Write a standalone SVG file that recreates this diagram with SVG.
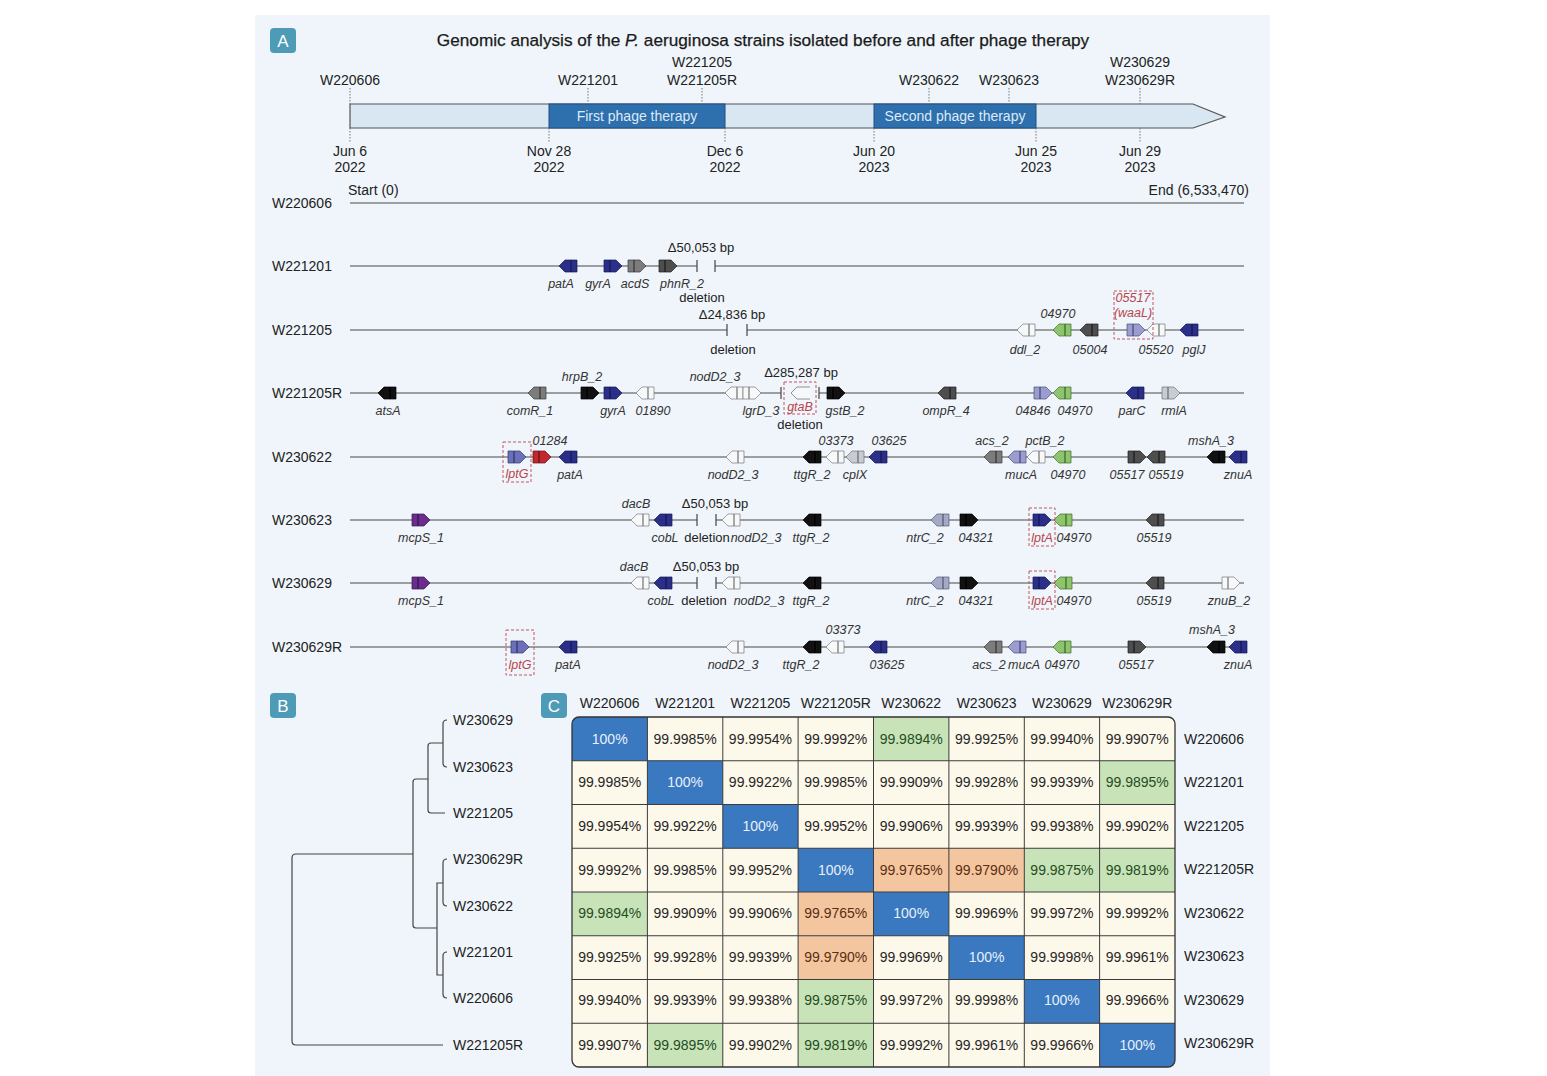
<svg xmlns="http://www.w3.org/2000/svg" width="1547" height="1076" viewBox="0 0 1547 1076">
<defs>
<style>
text{font-family:"Liberation Sans",Arial,sans-serif;fill:#222}
.t14{font-size:14px}
.gl{font-size:12.5px;font-style:italic;fill:#333}
.gc{text-anchor:middle}
.red{fill:#b8454c}
.bb{fill:none;stroke:#4a4a4a;stroke-width:1.2}
.tick{stroke:#444;stroke-width:1.2}
.dot{stroke:#777;stroke-width:1;stroke-dasharray:1.5 1.5}
.box{fill:none;stroke:#c0575e;stroke-width:1;stroke-dasharray:3 2}
.navy{fill:#2c2f88;stroke:#15175a}
.blk{fill:#111;stroke:#000}
.gry{fill:#7c7c7c;stroke:#3a3a3a}
.dk{fill:#4e4e4e;stroke:#1e1e1e}
.wht{fill:#f6f8fa;stroke:#7a7a7a}
.lg{fill:#c8ccd2;stroke:#6d7075}
.grn{fill:#8dc46d;stroke:#3d6e28}
.lp{fill:#9a9dcd;stroke:#4a4d80}
.np{fill:#a6a9c6;stroke:#585b78}
.bp{fill:#6c70b8;stroke:#33366e}
.rd{fill:#c1272d;stroke:#6d1014}
.pur{fill:#6b2d8c;stroke:#3a1450}
.tree{fill:none;stroke:#444;stroke-width:1.2}
.cell{font-size:14px;text-anchor:middle;fill:#262626}
.cw{fill:#e8f1fa}
.cg{fill:#234d1e}
.co{fill:#5a2e10}
.lbl{fill:#4e9bb7}
.lblt{font-size:17px;fill:#fff;text-anchor:middle}
</style>
<g id="gr"><path d="M-9,-6H3L9,0L3,6H-9Z" stroke-width="0.7"/><path d="M-3,-6V6" stroke-width="1.3"/></g>
<g id="gl"><path d="M9,-6H-3L-9,0L-3,6H9Z" stroke-width="0.7"/><path d="M3,-6V6" stroke-width="1.3"/></g>
<clipPath id="mclip"><rect x="572" y="717" width="603" height="350" rx="7"/></clipPath>
</defs>
<rect width="1547" height="1076" fill="#ffffff"/>
<rect x="255" y="15" width="1015" height="1061" fill="#eff5fa"/>

<!-- Panel A header -->
<g id="labelA"><rect x="270" y="28" width="26" height="25" rx="4" class="lbl"/><text x="283" y="47" class="lblt">A</text></g>
<text x="763" y="46" class="gc" style="font-size:17.2px;fill:#1a1a1a;stroke:#1a1a1a;stroke-width:0.25">Genomic analysis of the <tspan font-style="italic">P.</tspan> aeruginosa strains isolated before and after phage therapy</text>

<!-- Timeline -->
<g id="timeline">
<polygon points="350,104 1193,104 1225,117 1193,128 350,128" fill="#d8e7f2" stroke="#555" stroke-width="1.2"/>
<rect x="549" y="104" width="176" height="24" fill="#2e6fae" stroke="#1f4f80" stroke-width="1"/>
<rect x="874" y="104" width="162" height="24" fill="#2e6fae" stroke="#1f4f80" stroke-width="1"/>
<text x="637" y="121" class="t14 gc" style="fill:#dceaf6">First phage therapy</text>
<text x="955" y="121" class="t14 gc" style="fill:#dceaf6">Second phage therapy</text>
<line x1="350" y1="88" x2="350" y2="104" class="dot"/>
<line x1="588" y1="88" x2="588" y2="104" class="dot"/>
<line x1="702" y1="88" x2="702" y2="104" class="dot"/>
<line x1="929" y1="88" x2="929" y2="104" class="dot"/>
<line x1="1009" y1="88" x2="1009" y2="104" class="dot"/>
<line x1="1140" y1="88" x2="1140" y2="104" class="dot"/>
<line x1="350" y1="128" x2="350" y2="142" class="dot"/>
<line x1="549" y1="128" x2="549" y2="142" class="dot"/>
<line x1="725" y1="128" x2="725" y2="142" class="dot"/>
<line x1="874" y1="128" x2="874" y2="142" class="dot"/>
<line x1="1036" y1="128" x2="1036" y2="142" class="dot"/>
<line x1="1140" y1="128" x2="1140" y2="142" class="dot"/>
<text x="350" y="85" class="t14 gc">W220606</text>
<text x="588" y="85" class="t14 gc">W221201</text>
<text x="702" y="67" class="t14 gc">W221205</text>
<text x="702" y="85" class="t14 gc">W221205R</text>
<text x="929" y="85" class="t14 gc">W230622</text>
<text x="1009" y="85" class="t14 gc">W230623</text>
<text x="1140" y="67" class="t14 gc">W230629</text>
<text x="1140" y="85" class="t14 gc">W230629R</text>
<text x="350" y="156" class="t14 gc">Jun 6</text><text x="350" y="172" class="t14 gc">2022</text>
<text x="549" y="156" class="t14 gc">Nov 28</text><text x="549" y="172" class="t14 gc">2022</text>
<text x="725" y="156" class="t14 gc">Dec 6</text><text x="725" y="172" class="t14 gc">2022</text>
<text x="874" y="156" class="t14 gc">Jun 20</text><text x="874" y="172" class="t14 gc">2023</text>
<text x="1036" y="156" class="t14 gc">Jun 25</text><text x="1036" y="172" class="t14 gc">2023</text>
<text x="1140" y="156" class="t14 gc">Jun 29</text><text x="1140" y="172" class="t14 gc">2023</text>
</g>

<!-- Row W220606 -->
<g id="row-W220606">
<text x="272" y="208" class="t14">W220606</text>
<text x="348" y="195" class="t14">Start (0)</text>
<text x="1249" y="195" class="t14" text-anchor="end">End (6,533,470)</text>
<line x1="350" y1="203" x2="1244" y2="203" class="bb"/>
</g>

<!-- Row W221201 -->
<g id="row-W221201">
<text x="272" y="271" class="t14">W221201</text>
<path d="M350,266H697M715,266H1244" class="bb"/>
<line x1="697" y1="260" x2="697" y2="272" class="tick"/><line x1="715" y1="260" x2="715" y2="272" class="tick"/>
<use href="#gl" x="568" y="266" class="navy"/>
<use href="#gr" x="613" y="266" class="navy"/>
<use href="#gr" x="637" y="266" class="gry"/>
<use href="#gr" x="668" y="266" class="dk"/>
<text x="701" y="252" class="t14 gc" style="font-size:13px">Δ50,053 bp</text>
<text x="561" y="288" class="gl gc">patA</text>
<text x="598" y="288" class="gl gc">gyrA</text>
<text x="635" y="288" class="gl gc">acdS</text>
<text x="682" y="288" class="gl gc">phnR_2</text>
<text x="702" y="302" class="t14 gc" style="font-size:13px">deletion</text>
</g>

<!-- Row W221205 -->
<g id="row-W221205">
<text x="272" y="335" class="t14">W221205</text>
<path d="M350,330H727M747,330H1244" class="bb"/>
<line x1="727" y1="324" x2="727" y2="336" class="tick"/><line x1="747" y1="324" x2="747" y2="336" class="tick"/>
<text x="732" y="319" class="t14 gc" style="font-size:13px">Δ24,836 bp</text>
<text x="733" y="354" class="t14 gc" style="font-size:13px">deletion</text>
<use href="#gl" x="1026" y="330" class="wht"/>
<use href="#gl" x="1062" y="330" class="grn"/>
<use href="#gl" x="1089" y="330" class="dk"/>
<use href="#gr" x="1136" y="330" class="lp"/>
<use href="#gl" x="1156" y="330" class="wht"/>
<use href="#gl" x="1189" y="330" class="navy"/>
<rect x="1114" y="291" width="39" height="48" class="box"/>
<text x="1133" y="302" class="gl gc red">05517</text>
<text x="1133" y="317" class="gl gc red">(waaL)</text>
<text x="1058" y="318" class="gl gc">04970</text>
<text x="1025" y="354" class="gl gc">ddl_2</text>
<text x="1090" y="354" class="gl gc">05004</text>
<text x="1156" y="354" class="gl gc">05520</text>
<text x="1194" y="354" class="gl gc">pglJ</text>
</g>

<!-- Row W221205R -->
<g id="row-W221205R">
<text x="272" y="398" class="t14">W221205R</text>
<path d="M350,393H781M819,393H1244" class="bb"/>
<line x1="781" y1="387" x2="781" y2="399" class="tick"/><line x1="819" y1="387" x2="819" y2="399" class="tick"/>
<use href="#gl" x="387" y="393" class="blk"/>
<use href="#gl" x="537" y="393" class="gry"/>
<use href="#gr" x="590" y="393" class="blk"/>
<use href="#gr" x="613" y="393" class="navy"/>
<use href="#gl" x="645" y="393" class="wht"/>
<use href="#gl" x="734" y="393" class="wht"/>
<use href="#gr" x="752" y="393" class="wht"/>
<path d="M810,387H797L791,393L797,399H810" fill="#f6f8fa" stroke="#7a7a7a" stroke-width="0.8"/>
<rect x="784" y="382" width="32" height="32" class="box"/>
<use href="#gr" x="836" y="393" class="blk"/>
<use href="#gl" x="947" y="393" class="dk"/>
<use href="#gr" x="1043" y="393" class="lp"/>
<use href="#gl" x="1062" y="393" class="grn"/>
<use href="#gl" x="1135" y="393" class="navy"/>
<use href="#gr" x="1171" y="393" class="lg"/>
<text x="801" y="377" class="t14 gc" style="font-size:13px">Δ285,287 bp</text>
<text x="800" y="429" class="t14 gc" style="font-size:13px">deletion</text>
<text x="800" y="411" class="gl gc red">gtaB</text>
<text x="582" y="381" class="gl gc">hrpB_2</text>
<text x="715" y="381" class="gl gc">nodD2_3</text>
<text x="388" y="415" class="gl gc">atsA</text>
<text x="530" y="415" class="gl gc">comR_1</text>
<text x="613" y="415" class="gl gc">gyrA</text>
<text x="653" y="415" class="gl gc">01890</text>
<text x="761" y="415" class="gl gc">lgrD_3</text>
<text x="845" y="415" class="gl gc">gstB_2</text>
<text x="946" y="415" class="gl gc">ompR_4</text>
<text x="1033" y="415" class="gl gc">04846</text>
<text x="1075" y="415" class="gl gc">04970</text>
<text x="1132" y="415" class="gl gc">parC</text>
<text x="1174" y="415" class="gl gc">rmlA</text>
</g>

<!-- Row W230622 -->
<g id="row-W230622">
<text x="272" y="462" class="t14">W230622</text>
<line x1="350" y1="457" x2="1244" y2="457" class="bb"/>
<use href="#gr" x="517" y="457" class="bp"/>
<use href="#gr" x="542" y="457" class="rd"/>
<use href="#gl" x="568" y="457" class="navy"/>
<use href="#gl" x="735" y="457" class="wht"/>
<use href="#gl" x="812" y="457" class="blk"/>
<use href="#gl" x="835" y="457" class="wht"/>
<use href="#gl" x="855" y="457" class="lg"/>
<use href="#gl" x="878" y="457" class="navy"/>
<use href="#gl" x="993" y="457" class="gry"/>
<use href="#gl" x="1017" y="457" class="lp"/>
<use href="#gl" x="1036" y="457" class="wht"/>
<use href="#gl" x="1062" y="457" class="grn"/>
<use href="#gr" x="1137" y="457" class="dk"/>
<use href="#gl" x="1156" y="457" class="dk"/>
<use href="#gl" x="1216" y="457" class="blk"/>
<use href="#gl" x="1238" y="457" class="navy"/>
<rect x="503" y="442" width="28" height="40" class="box"/>
<text x="517" y="478" class="gl gc red">lptG</text>
<text x="550" y="445" class="gl gc">01284</text>
<text x="836" y="445" class="gl gc">03373</text>
<text x="889" y="445" class="gl gc">03625</text>
<text x="992" y="445" class="gl gc">acs_2</text>
<text x="1045" y="445" class="gl gc">pctB_2</text>
<text x="1211" y="445" class="gl gc">mshA_3</text>
<text x="570" y="479" class="gl gc">patA</text>
<text x="733" y="479" class="gl gc">nodD2_3</text>
<text x="812" y="479" class="gl gc">ttgR_2</text>
<text x="855" y="479" class="gl gc">cplX</text>
<text x="1021" y="479" class="gl gc">mucA</text>
<text x="1068" y="479" class="gl gc">04970</text>
<text x="1127" y="479" class="gl gc">05517</text>
<text x="1166" y="479" class="gl gc">05519</text>
<text x="1238" y="479" class="gl gc">znuA</text>
</g>

<!-- Row W230623 -->
<g id="row-W230623">
<text x="272" y="525" class="t14">W230623</text>
<path d="M350,520H697M716,520H1244" class="bb"/>
<line x1="697" y1="514" x2="697" y2="526" class="tick"/><line x1="716" y1="514" x2="716" y2="526" class="tick"/>
<use href="#gr" x="421" y="520" class="pur"/>
<use href="#gl" x="640" y="520" class="wht"/>
<use href="#gl" x="663" y="520" class="navy"/>
<use href="#gl" x="731" y="520" class="wht"/>
<use href="#gl" x="812" y="520" class="blk"/>
<use href="#gl" x="940" y="520" class="np"/>
<use href="#gr" x="969" y="520" class="blk"/>
<use href="#gr" x="1042" y="520" class="navy"/>
<use href="#gl" x="1063" y="520" class="grn"/>
<use href="#gl" x="1155" y="520" class="dk"/>
<rect x="1029" y="508" width="26" height="38" class="box"/>
<text x="636" y="508" class="gl gc">dacB</text>
<text x="715" y="508" class="t14 gc" style="font-size:13px">Δ50,053 bp</text>
<text x="421" y="542" class="gl gc">mcpS_1</text>
<text x="665" y="542" class="gl gc">cobL</text>
<text x="707" y="542" class="t14 gc" style="font-size:13px">deletion</text>
<text x="756" y="542" class="gl gc">nodD2_3</text>
<text x="811" y="542" class="gl gc">ttgR_2</text>
<text x="925" y="542" class="gl gc">ntrC_2</text>
<text x="976" y="542" class="gl gc">04321</text>
<text x="1042" y="542" class="gl gc red">lptA</text>
<text x="1074" y="542" class="gl gc">04970</text>
<text x="1154" y="542" class="gl gc">05519</text>
</g>

<!-- Row W230629 -->
<g id="row-W230629">
<text x="272" y="588" class="t14">W230629</text>
<path d="M350,583H697M716,583H1244" class="bb"/>
<line x1="697" y1="577" x2="697" y2="589" class="tick"/><line x1="716" y1="577" x2="716" y2="589" class="tick"/>
<use href="#gr" x="421" y="583" class="pur"/>
<use href="#gl" x="640" y="583" class="wht"/>
<use href="#gl" x="663" y="583" class="navy"/>
<use href="#gl" x="731" y="583" class="wht"/>
<use href="#gl" x="812" y="583" class="blk"/>
<use href="#gl" x="940" y="583" class="np"/>
<use href="#gr" x="969" y="583" class="blk"/>
<use href="#gr" x="1042" y="583" class="navy"/>
<use href="#gl" x="1063" y="583" class="grn"/>
<use href="#gl" x="1155" y="583" class="dk"/>
<use href="#gr" x="1231" y="583" class="wht"/>
<rect x="1029" y="571" width="26" height="38" class="box"/>
<text x="634" y="571" class="gl gc">dacB</text>
<text x="706" y="571" class="t14 gc" style="font-size:13px">Δ50,053 bp</text>
<text x="421" y="605" class="gl gc">mcpS_1</text>
<text x="661" y="605" class="gl gc">cobL</text>
<text x="704" y="605" class="t14 gc" style="font-size:13px">deletion</text>
<text x="759" y="605" class="gl gc">nodD2_3</text>
<text x="811" y="605" class="gl gc">ttgR_2</text>
<text x="925" y="605" class="gl gc">ntrC_2</text>
<text x="976" y="605" class="gl gc">04321</text>
<text x="1042" y="605" class="gl gc red">lptA</text>
<text x="1074" y="605" class="gl gc">04970</text>
<text x="1154" y="605" class="gl gc">05519</text>
<text x="1229" y="605" class="gl gc">znuB_2</text>
</g>

<!-- Row W230629R -->
<g id="row-W230629R">
<text x="272" y="652" class="t14">W230629R</text>
<line x1="350" y1="647" x2="1244" y2="647" class="bb"/>
<use href="#gr" x="520" y="647" class="bp"/>
<use href="#gl" x="568" y="647" class="navy"/>
<use href="#gl" x="735" y="647" class="wht"/>
<use href="#gl" x="812" y="647" class="blk"/>
<use href="#gl" x="835" y="647" class="wht"/>
<use href="#gl" x="878" y="647" class="navy"/>
<use href="#gl" x="993" y="647" class="gry"/>
<use href="#gl" x="1017" y="647" class="lp"/>
<use href="#gl" x="1062" y="647" class="grn"/>
<use href="#gr" x="1137" y="647" class="dk"/>
<use href="#gl" x="1216" y="647" class="blk"/>
<use href="#gl" x="1238" y="647" class="navy"/>
<rect x="506" y="630" width="28" height="45" class="box"/>
<text x="520" y="669" class="gl gc red">lptG</text>
<text x="843" y="634" class="gl gc">03373</text>
<text x="1212" y="634" class="gl gc">mshA_3</text>
<text x="568" y="669" class="gl gc">patA</text>
<text x="733" y="669" class="gl gc">nodD2_3</text>
<text x="801" y="669" class="gl gc">ttgR_2</text>
<text x="887" y="669" class="gl gc">03625</text>
<text x="989" y="669" class="gl gc">acs_2</text>
<text x="1024" y="669" class="gl gc">mucA</text>
<text x="1062" y="669" class="gl gc">04970</text>
<text x="1136" y="669" class="gl gc">05517</text>
<text x="1238" y="669" class="gl gc">znuA</text>
</g>

<!-- Panel B -->
<g id="labelB"><rect x="270" y="693" width="26" height="25" rx="4" class="lbl"/><text x="283" y="712" class="lblt">B</text></g>
<g id="tree-connectors">
<path d="M447,720 Q443,720 443,724 V763 Q443,767 447,767" class="tree"/>
<path d="M443,743 H431 Q428,743 428,746 V810 Q428,813 431,813 H445" class="tree"/>
<path d="M428,779 H416 Q413,779 413,782 V925 Q413,928 416,928 H437" class="tree"/>
<path d="M447,859 Q443,859 443,863 V902 Q443,906 447,906" class="tree"/>
<path d="M447,952 Q443,952 443,956 V994 Q443,998 447,998" class="tree"/>
<path d="M443,883 H437 V975 H443" class="tree"/>
<path d="M413,854 H296 Q292,854 292,858 V1041 Q292,1045 296,1045 H443" class="tree"/>
</g>
<g id="tree-leaves">
<text x="453" y="725" class="t14">W230629</text>
<text x="453" y="772" class="t14">W230623</text>
<text x="453" y="818" class="t14">W221205</text>
<text x="453" y="864" class="t14">W230629R</text>
<text x="453" y="911" class="t14">W230622</text>
<text x="453" y="957" class="t14">W221201</text>
<text x="453" y="1003" class="t14">W220606</text>
<text x="453" y="1050" class="t14">W221205R</text>
</g>

<!-- Panel C -->
<g id="labelC"><rect x="541" y="693" width="26" height="25" rx="4" class="lbl"/><text x="554" y="712" class="lblt">C</text></g>
<g id="matrix">
<g clip-path="url(#mclip)">
<rect x="572" y="717" width="603" height="350" fill="#fcf8ea"/>
<g fill="#3a78c0">
<rect x="572" y="717" width="75.4" height="43.75"/>
<rect x="647.4" y="760.75" width="75.4" height="43.75"/>
<rect x="722.8" y="804.5" width="75.4" height="43.75"/>
<rect x="798.1" y="848.25" width="75.4" height="43.75"/>
<rect x="873.5" y="892" width="75.4" height="43.75"/>
<rect x="948.9" y="935.75" width="75.4" height="43.75"/>
<rect x="1024.3" y="979.5" width="75.4" height="43.75"/>
<rect x="1099.6" y="1023.25" width="75.4" height="43.75"/>
</g>
<g fill="#c9e3b9">
<rect x="873.5" y="717" width="75.4" height="43.75"/>
<rect x="572" y="892" width="75.4" height="43.75"/>
<rect x="1099.6" y="760.75" width="75.4" height="43.75"/>
<rect x="647.4" y="1023.25" width="75.4" height="43.75"/>
<rect x="1024.3" y="848.25" width="75.4" height="43.75"/>
<rect x="1099.6" y="848.25" width="75.4" height="43.75"/>
<rect x="798.1" y="979.5" width="75.4" height="43.75"/>
<rect x="798.1" y="1023.25" width="75.4" height="43.75"/>
</g>
<g fill="#f4c6a0">
<rect x="873.5" y="848.25" width="75.4" height="43.75"/>
<rect x="948.9" y="848.25" width="75.4" height="43.75"/>
<rect x="798.1" y="892" width="75.4" height="43.75"/>
<rect x="798.1" y="935.75" width="75.4" height="43.75"/>
</g>
<path d="M647.4,717V1067M722.8,717V1067M798.1,717V1067M873.5,717V1067M948.9,717V1067M1024.3,717V1067M1099.6,717V1067M572,760.75H1175M572,804.5H1175M572,848.25H1175M572,892H1175M572,935.75H1175M572,979.5H1175M572,1023.25H1175" fill="none" stroke="#3c3c3c" stroke-width="1"/>
</g>
<rect x="572" y="717" width="603" height="350" rx="7" fill="none" stroke="#333" stroke-width="1.3"/>
<g class="hdr">
<text x="609.7" y="708" class="t14 gc">W220606</text>
<text x="685.1" y="708" class="t14 gc">W221201</text>
<text x="760.4" y="708" class="t14 gc">W221205</text>
<text x="835.8" y="708" class="t14 gc">W221205R</text>
<text x="911.2" y="708" class="t14 gc">W230622</text>
<text x="986.6" y="708" class="t14 gc">W230623</text>
<text x="1061.9" y="708" class="t14 gc">W230629</text>
<text x="1137.3" y="708" class="t14 gc">W230629R</text>
<text x="1184" y="744" class="t14">W220606</text>
<text x="1184" y="787" class="t14">W221201</text>
<text x="1184" y="831" class="t14">W221205</text>
<text x="1184" y="874" class="t14">W221205R</text>
<text x="1184" y="918" class="t14">W230622</text>
<text x="1184" y="961" class="t14">W230623</text>
<text x="1184" y="1005" class="t14">W230629</text>
<text x="1184" y="1048" class="t14">W230629R</text>
</g>
<g>
<text x="609.7" y="744" class="cell cw">100%</text>
<text x="685.1" y="744" class="cell">99.9985%</text>
<text x="760.4" y="744" class="cell">99.9954%</text>
<text x="835.8" y="744" class="cell">99.9992%</text>
<text x="911.2" y="744" class="cell cg">99.9894%</text>
<text x="986.6" y="744" class="cell">99.9925%</text>
<text x="1061.9" y="744" class="cell">99.9940%</text>
<text x="1137.3" y="744" class="cell">99.9907%</text>

<text x="609.7" y="787" class="cell">99.9985%</text>
<text x="685.1" y="787" class="cell cw">100%</text>
<text x="760.4" y="787" class="cell">99.9922%</text>
<text x="835.8" y="787" class="cell">99.9985%</text>
<text x="911.2" y="787" class="cell">99.9909%</text>
<text x="986.6" y="787" class="cell">99.9928%</text>
<text x="1061.9" y="787" class="cell">99.9939%</text>
<text x="1137.3" y="787" class="cell cg">99.9895%</text>

<text x="609.7" y="831" class="cell">99.9954%</text>
<text x="685.1" y="831" class="cell">99.9922%</text>
<text x="760.4" y="831" class="cell cw">100%</text>
<text x="835.8" y="831" class="cell">99.9952%</text>
<text x="911.2" y="831" class="cell">99.9906%</text>
<text x="986.6" y="831" class="cell">99.9939%</text>
<text x="1061.9" y="831" class="cell">99.9938%</text>
<text x="1137.3" y="831" class="cell">99.9902%</text>

<text x="609.7" y="875" class="cell">99.9992%</text>
<text x="685.1" y="875" class="cell">99.9985%</text>
<text x="760.4" y="875" class="cell">99.9952%</text>
<text x="835.8" y="875" class="cell cw">100%</text>
<text x="911.2" y="875" class="cell co">99.9765%</text>
<text x="986.6" y="875" class="cell co">99.9790%</text>
<text x="1061.9" y="875" class="cell cg">99.9875%</text>
<text x="1137.3" y="875" class="cell cg">99.9819%</text>

<text x="609.7" y="918" class="cell cg">99.9894%</text>
<text x="685.1" y="918" class="cell">99.9909%</text>
<text x="760.4" y="918" class="cell">99.9906%</text>
<text x="835.8" y="918" class="cell co">99.9765%</text>
<text x="911.2" y="918" class="cell cw">100%</text>
<text x="986.6" y="918" class="cell">99.9969%</text>
<text x="1061.9" y="918" class="cell">99.9972%</text>
<text x="1137.3" y="918" class="cell">99.9992%</text>

<text x="609.7" y="962" class="cell">99.9925%</text>
<text x="685.1" y="962" class="cell">99.9928%</text>
<text x="760.4" y="962" class="cell">99.9939%</text>
<text x="835.8" y="962" class="cell co">99.9790%</text>
<text x="911.2" y="962" class="cell">99.9969%</text>
<text x="986.6" y="962" class="cell cw">100%</text>
<text x="1061.9" y="962" class="cell">99.9998%</text>
<text x="1137.3" y="962" class="cell">99.9961%</text>

<text x="609.7" y="1005" class="cell">99.9940%</text>
<text x="685.1" y="1005" class="cell">99.9939%</text>
<text x="760.4" y="1005" class="cell">99.9938%</text>
<text x="835.8" y="1005" class="cell cg">99.9875%</text>
<text x="911.2" y="1005" class="cell">99.9972%</text>
<text x="986.6" y="1005" class="cell">99.9998%</text>
<text x="1061.9" y="1005" class="cell cw">100%</text>
<text x="1137.3" y="1005" class="cell">99.9966%</text>

<text x="609.7" y="1050" class="cell">99.9907%</text>
<text x="685.1" y="1050" class="cell cg">99.9895%</text>
<text x="760.4" y="1050" class="cell">99.9902%</text>
<text x="835.8" y="1050" class="cell cg">99.9819%</text>
<text x="911.2" y="1050" class="cell">99.9992%</text>
<text x="986.6" y="1050" class="cell">99.9961%</text>
<text x="1061.9" y="1050" class="cell">99.9966%</text>
<text x="1137.3" y="1050" class="cell cw">100%</text>
</g>
</g>
</svg>
